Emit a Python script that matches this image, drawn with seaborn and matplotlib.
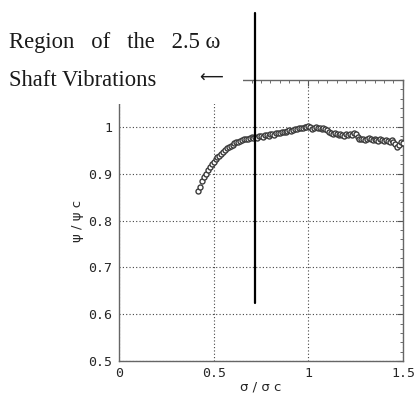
import numpy as np
import pandas as pd
import seaborn as sns
import matplotlib
matplotlib.use("Agg")
import matplotlib.pyplot as plt
from matplotlib.ticker import MultipleLocator
from matplotlib.patches import Rectangle

sigma_ratio = [0.42, 0.43, 0.44, 0.45, 0.46, 0.47, 0.48, 0.49, 0.50, 0.51,
               0.52, 0.53, 0.54, 0.55, 0.56, 0.57, 0.58, 0.59, 0.60, 0.61,
               0.62, 0.63, 0.64, 0.65, 0.66, 0.67, 0.68, 0.69, 0.70, 0.71,
               0.72, 0.73, 0.74, 0.75, 0.76, 0.77, 0.78, 0.79, 0.80, 0.81,
               0.82, 0.83, 0.84, 0.85, 0.86, 0.87, 0.88, 0.89, 0.90, 0.91,
               0.92, 0.93, 0.94, 0.95, 0.96, 0.97, 0.98, 0.99, 1.00, 1.01,
               1.02, 1.03, 1.04, 1.05, 1.06, 1.07, 1.08, 1.09, 1.10, 1.11,
               1.12, 1.13, 1.14, 1.15, 1.16, 1.17, 1.18, 1.19, 1.20, 1.21,
               1.22, 1.23, 1.24, 1.25, 1.26, 1.27, 1.28, 1.29, 1.30, 1.31,
               1.32, 1.33, 1.34, 1.35, 1.36, 1.37, 1.38, 1.39, 1.40, 1.41,
               1.42, 1.43, 1.44, 1.45, 1.46, 1.47, 1.48, 1.49, 1.50]
psi_ratio = [0.864, 0.872, 0.884, 0.893, 0.899, 0.908, 0.915, 0.921, 0.925, 0.931,
             0.935, 0.938, 0.943, 0.946, 0.951, 0.955, 0.957, 0.960, 0.962, 0.965,
             0.968, 0.967, 0.970, 0.972, 0.973, 0.975, 0.974, 0.976, 0.978, 0.976,
             0.979, 0.977, 0.980, 0.981, 0.979, 0.982, 0.983, 0.981, 0.984, 0.985,
             0.983, 0.986, 0.987, 0.986, 0.988, 0.990, 0.989, 0.991, 0.993, 0.992,
             0.994, 0.996, 0.995, 0.997, 0.998, 0.997, 0.999, 1.000, 1.001, 0.999,
             0.996, 0.998, 0.999, 0.997, 0.998, 0.996, 0.997, 0.995, 0.993, 0.988,
             0.986, 0.985, 0.987, 0.984, 0.982, 0.985, 0.983, 0.981, 0.984, 0.982,
             0.985, 0.983, 0.986, 0.984, 0.978, 0.975, 0.973, 0.975, 0.972, 0.974,
             0.976, 0.973, 0.971, 0.974, 0.972, 0.970, 0.973, 0.971, 0.969, 0.972,
             0.970, 0.968, 0.971, 0.967, 0.963, 0.957, 0.962, 0.968, 0.965]

boundary_x = [0.718, 0.718]
boundary_y = [0.623, 1.243]

x_ticks = [0, 0.5, 1, 1.5]
x_tick_labels = ["0", "0.5", "1", "1.5"]
y_ticks = [0.5, 0.6, 0.7, 0.8, 0.9, 1.0]
y_tick_labels = ["0.5", "0.6", "0.7", "0.8", "0.9", "1"]

df = pd.DataFrame({"sigma": sigma_ratio, "psi": psi_ratio})

sns.set_style("white")
plt.rcParams["font.family"] = ["DejaVu Sans"]

fig = plt.figure(figsize=(4.15, 4.03), dpi=100)
ax = fig.add_axes([0.2867, 0.1042, 0.6843, 0.6973])

sns.scatterplot(data=df, x="sigma", y="psi", ax=ax, marker="o", s=13,
                facecolor="white", edgecolor="#3c3c3c", linewidth=1.0, zorder=3)

ax.plot(boundary_x, boundary_y, color="black", lw=1.6, clip_on=False, zorder=6)

ax.set_xlim(0, 1.5)
ax.set_ylim(0.5, 1.1)
ax.set_xticks(x_ticks)
ax.set_xticklabels(x_tick_labels, family="DejaVu Sans Mono")
ax.set_yticks(y_ticks)
ax.set_yticklabels(y_tick_labels, family="DejaVu Sans Mono")
ax.xaxis.set_minor_locator(MultipleLocator(0.05))
ax.yaxis.set_minor_locator(MultipleLocator(0.02))
ax.tick_params(which="both", direction="in", top=True, right=True, color="#555555")
ax.tick_params(which="major", length=4, labelsize=9.5)
ax.tick_params(axis="x", which="major", pad=4)
ax.tick_params(axis="y", which="major", pad=5)
ax.tick_params(which="minor", length=2)
for s in ax.spines.values():
    s.set_color("#666666")
    s.set_linewidth(1.0)
ax.grid(True, which="major", linestyle=(0, (1, 2)), color="#444444", lw=0.8)
ax.set_xlabel("σ / σ c", fontsize=9.5, labelpad=1)
ax.set_ylabel("ψ / ψ c", fontsize=9.5, labelpad=3)

# white area covering the upper-left part of the frame (text region)
fig.patches.append(Rectangle((0, 0.742), 0.5855, 0.258, transform=fig.transFigure,
                             facecolor="white", edgecolor="none", zorder=5))

fig.text(0.022, 0.881, "Region   of   the   2.5 ω", family="Liberation Serif",
         fontsize=16.3, va="baseline", ha="left", color="#1a1a1a", zorder=7)
fig.text(0.022, 0.787, "Shaft Vibrations", family="Liberation Serif",
         fontsize=16.3, va="baseline", ha="left", color="#1a1a1a", zorder=7)
fig.text(0.508, 0.808, "⟵", family="DejaVu Sans", fontsize=12,
         va="center", ha="center", color="#1a1a1a", zorder=7)

fig.savefig("out.png", dpi=100)
